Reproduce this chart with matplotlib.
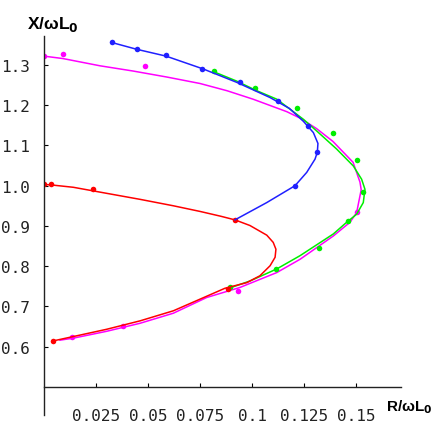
import matplotlib
matplotlib.use("Agg")
import matplotlib.pyplot as plt

plt.rcParams["mathtext.default"] = "bf"

# curve points (R/wL0, X/wL0)
red_R = [0.0, 0.0032, 0.0141, 0.0301, 0.0462, 0.0622, 0.0750, 0.0850, 0.0918, 0.0990,
         0.1071, 0.1102, 0.1115, 0.1111, 0.1087, 0.1038, 0.0975, 0.0870, 0.0622,
         0.0462, 0.0301, 0.0141, 0.0043]
red_X = [1.003, 1.002, 0.996, 0.981, 0.966, 0.950, 0.936, 0.924, 0.915, 0.901,
         0.877, 0.859, 0.842, 0.822, 0.801, 0.776, 0.759, 0.745, 0.689,
         0.664, 0.643, 0.625, 0.614]
red_dot_R = [0.0, 0.0032, 0.0236, 0.0918, 0.0886, 0.0043]
red_dot_X = [1.003, 1.003, 0.991, 0.915, 0.743, 0.614]

blue_R = [0.0325, 0.0446, 0.0587, 0.0766, 0.0926, 0.1087, 0.1180, 0.1247, 0.1295,
          0.1317, 0.1314, 0.1303, 0.1263, 0.1207, 0.1071, 0.0918]
blue_X = [1.356, 1.339, 1.322, 1.290, 1.257, 1.219, 1.192, 1.160, 1.132,
          1.105, 1.083, 1.066, 1.033, 1.000, 0.958, 0.915]
blue_dot_R = [0.0325, 0.0446, 0.0587, 0.0758, 0.0942, 0.1126, 0.1271, 0.1311, 0.1207]
blue_dot_X = [1.356, 1.339, 1.325, 1.291, 1.258, 1.211, 1.149, 1.083, 0.998]

green_R = [0.0817, 0.0926, 0.1023, 0.1119, 0.1247, 0.1311, 0.1407, 0.1487, 0.1527,
           0.1543, 0.1535, 0.1503, 0.1455, 0.1391, 0.1231, 0.1119, 0.0990, 0.0878]
green_X = [1.283, 1.260, 1.236, 1.215, 1.165, 1.136, 1.091, 1.049, 1.016,
           0.991, 0.958, 0.929, 0.909, 0.880, 0.826, 0.793, 0.763, 0.743]
green_dot_R = [0.0817, 0.1014, 0.1215, 0.1391, 0.1503, 0.1535, 0.1463, 0.1324, 0.1115, 0.0894]
green_dot_X = [1.285, 1.242, 1.192, 1.132, 1.063, 0.985, 0.913, 0.844, 0.794, 0.747]

mag_R = [0.0, 0.0091, 0.0269, 0.0428, 0.0591, 0.0750, 0.0880, 0.1005, 0.1167, 0.1231,
         0.1310, 0.1389, 0.1486, 0.1519, 0.1525, 0.1503, 0.1471, 0.1391, 0.1231, 0.1119,
         0.0942, 0.0782, 0.0622, 0.0462, 0.0301, 0.0141, 0.0077]
mag_X = [1.322, 1.316, 1.298, 1.285, 1.270, 1.254, 1.236, 1.215, 1.184, 1.168,
         1.142, 1.110, 1.058, 1.009, 0.990, 0.933, 0.909, 0.875, 0.817, 0.784,
         0.747, 0.722, 0.683, 0.658, 0.638, 0.621, 0.616]
mag_dot_R = [0.0, 0.0090, 0.0486, 0.1503, 0.0934, 0.0381, 0.0133]
mag_dot_X = [1.322, 1.327, 1.298, 0.935, 0.739, 0.652, 0.623]

x_ticks = [0.025, 0.05, 0.075, 0.1, 0.125, 0.15]
x_tick_labels = ["0.025", "0.05", "0.075", "0.1", "0.125", "0.15"]
y_ticks = [0.6, 0.7, 0.8, 0.9, 1.0, 1.1, 1.2, 1.3]
y_tick_labels = ["0.6", "0.7", "0.8", "0.9", "1.0", "1.1", "1.2", "1.3"]

fig = plt.figure(figsize=(4.36, 4.27), dpi=100)
ax = fig.add_axes([0.1009, 0.0258, 0.8182, 0.8875])

series = [(mag_R, mag_X, mag_dot_R, mag_dot_X, "#ff00ff"),
          (green_R, green_X, green_dot_R, green_dot_X, "#00ee00"),
          (red_R, red_X, red_dot_R, red_dot_X, "#ff0000"),
          (blue_R, blue_X, blue_dot_R, blue_dot_X, "#2020ff")]
for R, X, dR, dX, col in series:
    ax.plot(R, X, color=col, lw=1.1)
    ax.plot(dR, dX, "o", color=col, ms=4, mew=0)

ax.set_xlim(0, 0.1715)
ax.set_ylim(0.43, 1.372)
for s in ["top", "right"]:
    ax.spines[s].set_visible(False)
ax.spines["bottom"].set_position(("data", 0.5))
for s in ["left", "bottom"]:
    ax.spines[s].set_color("#222222")
    ax.spines[s].set_linewidth(1.0)

mono = "DejaVu Sans Mono"
ax.set_xticks(x_ticks)
ax.set_xticklabels(x_tick_labels, family=mono, fontsize=11.5, color="#222222")
ax.set_yticks(y_ticks)
ax.set_yticklabels(y_tick_labels, family=mono, fontsize=11.5, color="#222222")
ax.tick_params(axis="x", direction="in", length=3, width=0.8, pad=15)
ax.tick_params(axis="y", direction="in", length=3, width=0.8, pad=10)

fig.text(27 / 436, 1 - 29.5 / 427, "X/ωL$_0$", fontsize=12.5, fontweight="bold",
         family="Liberation Sans", ha="left", va="baseline")
fig.text(386 / 436, 1 - 411.7 / 427, "R/ωL$_0$", fontsize=11, fontweight="bold",
         family="Liberation Sans", ha="left", va="baseline")

fig.savefig("out.png", dpi=100)
